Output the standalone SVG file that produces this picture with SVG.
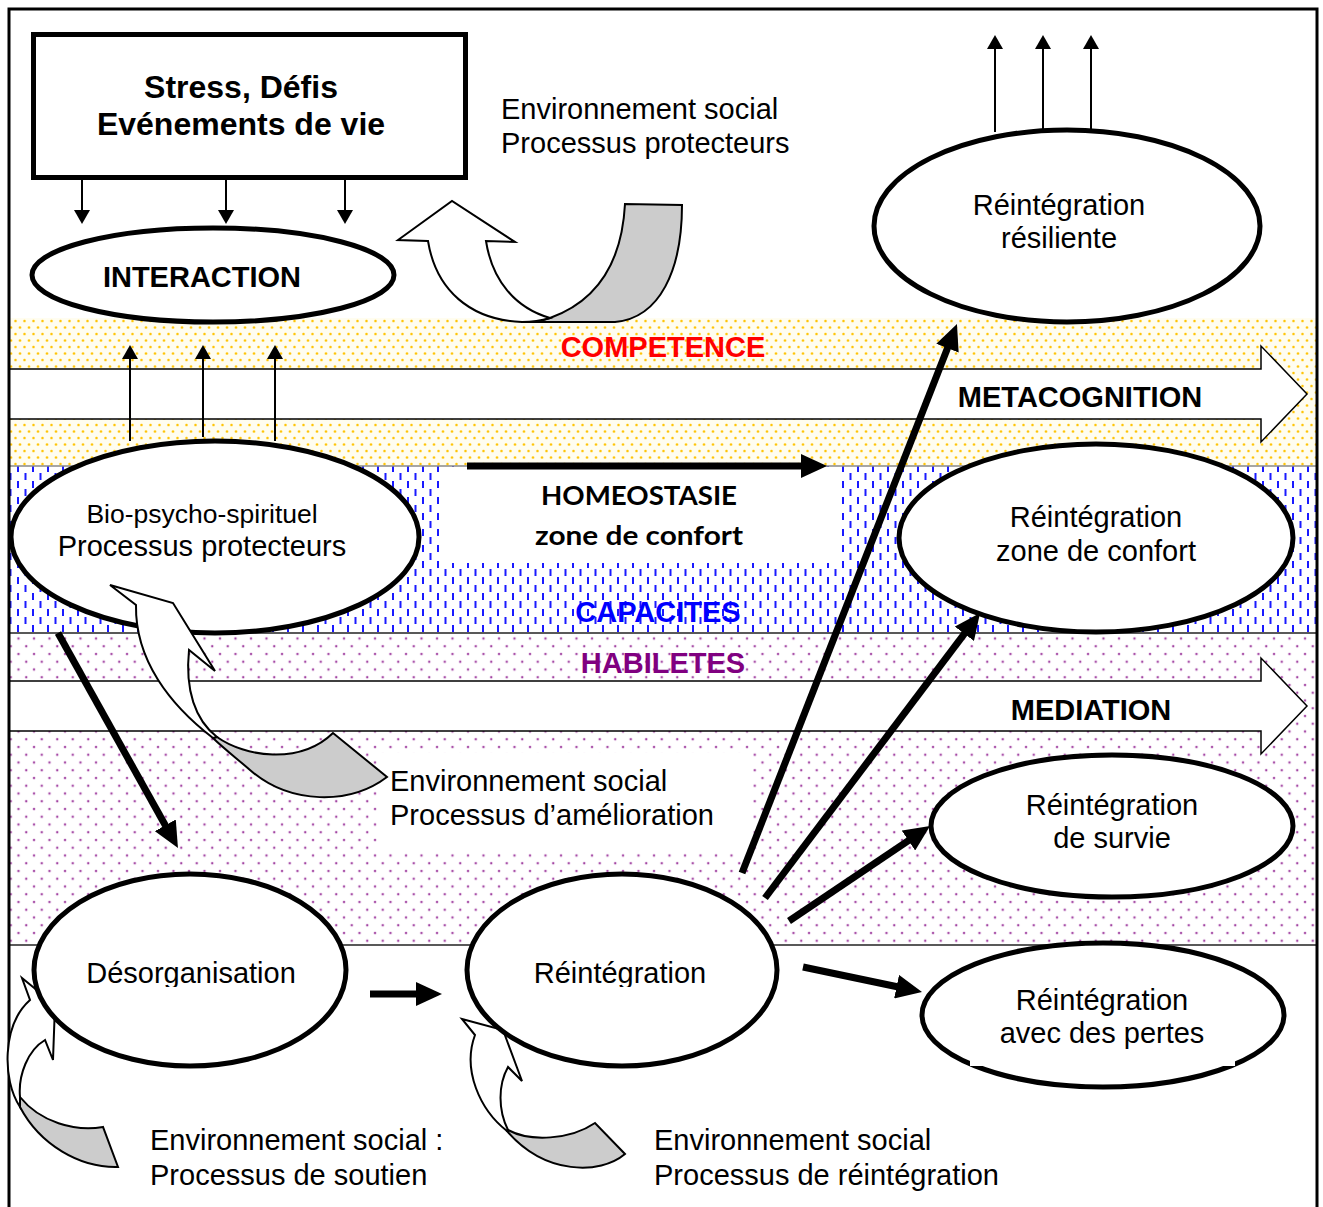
<svg xmlns="http://www.w3.org/2000/svg" width="1323" height="1207" viewBox="0 0 1323 1207">
<style>
.t{font-family:"Liberation Sans",Arial,sans-serif;font-size:29px;fill:#000}
.b{font-weight:bold}
.m{text-anchor:middle}
.cal{font-family:Lato,"Open Sans",sans-serif;font-weight:bold;font-size:27px;text-anchor:middle}
.node{fill:#fff;stroke:#000;stroke-width:5}
.thin{stroke:#000;stroke-width:2;fill:none;marker-end:url(#ah)}
.thick{stroke:#000;stroke-width:7;fill:none;marker-end:url(#ahb)}
.cw{fill:#fff;stroke:#000;stroke-width:2;stroke-linejoin:miter}
.cg{fill:#ccc;stroke:#000;stroke-width:2}
.band{stroke:#222;stroke-width:1.5}
.big{fill:#fff;stroke:#000;stroke-width:1.5}
</style>
<defs>
<marker id="ah" viewBox="0 0 14 16" refX="12" refY="8" markerWidth="14" markerHeight="16" markerUnits="userSpaceOnUse" orient="auto"><path d="M0,0 L14,8 L0,16 Z" fill="#000"/></marker>
<marker id="ahb" viewBox="0 0 26 24" refX="8" refY="12" markerWidth="26" markerHeight="24" markerUnits="userSpaceOnUse" orient="auto"><path d="M0,0 L26,12 L0,24 Z" fill="#000"/></marker>
<pattern id="py" width="9" height="13" patternUnits="userSpaceOnUse"><rect width="9" height="13" fill="#fffdf0"/><circle cx="2" cy="2.5" r="1.6" fill="#FFE680"/><circle cx="6.5" cy="9" r="1.6" fill="#FFE680"/><circle cx="2" cy="2.5" r="1" fill="#FFC000"/><circle cx="6.5" cy="9" r="1" fill="#FFC000"/></pattern>
<pattern id="pb" width="15" height="16" patternUnits="userSpaceOnUse"><rect width="15" height="16" fill="#fff"/><rect x="2" y="1" width="2" height="7" fill="#1a1aff"/><rect x="9.5" y="9" width="2" height="7" fill="#1a1aff"/></pattern>
<pattern id="pp" width="15.5" height="15.5" patternUnits="userSpaceOnUse"><rect width="15.5" height="15.5" fill="#fff"/><circle cx="3" cy="3" r="1.6" fill="#e6c6e6"/><circle cx="10.75" cy="10.75" r="1.6" fill="#e6c6e6"/><circle cx="3" cy="3" r="1" fill="#993399"/><circle cx="10.75" cy="10.75" r="1" fill="#993399"/></pattern>
<clipPath id="clipT"><rect x="0" y="900" width="1323" height="87"/></clipPath>
</defs>
<rect width="1323" height="1207" fill="#fff"/>
<g id="bands">
<rect x="10" y="318" width="1306" height="148" fill="url(#py)"/>
<rect x="10" y="466" width="1306" height="167" fill="url(#pb)"/>
<rect x="10" y="633" width="1306" height="312" fill="url(#pp)"/>
<line x1="10" y1="466" x2="1316" y2="466" stroke="#888" stroke-width="1.5"/>
<line class="band" x1="10" y1="633" x2="1316" y2="633"/>
<line class="band" x1="10" y1="945" x2="1316" y2="945"/>
<path class="big" d="M10,369 L1261,369 L1261,346 L1307,394 L1261,442 L1261,419 L10,419"/>
<path class="big" d="M10,681 L1261,681 L1261,658 L1307,706 L1261,754 L1261,731 L10,731"/>
<rect x="443" y="467" width="395" height="96" fill="#fff"/>
<rect x="380" y="753" width="373" height="97" fill="#fff"/>
</g>
<rect x="9" y="9" width="1308" height="1220" fill="none" stroke="#000" stroke-width="3"/>
<g id="labels">
<text class="t b m" x="663" y="357" style="fill:#FF0000">COMPETENCE</text>
<text class="t b m" x="1080" y="407">METACOGNITION</text>
<text class="t b m" x="658" y="622" style="fill:#0000FF">CAPACITES</text>
<text class="t b m" x="663" y="673" style="fill:#800080">HABILETES</text>
<text class="t b m" x="1091" y="720">MEDIATION</text>
<text class="cal" x="639" y="505" textLength="196" lengthAdjust="spacingAndGlyphs">HOMEOSTASIE</text>
<text class="cal" x="639" y="545" textLength="208" lengthAdjust="spacingAndGlyphs">zone de confort</text>
<text class="t" x="501" y="119">Environnement social</text>
<text class="t" x="501" y="153">Processus protecteurs</text>
<text class="t" x="390" y="791">Environnement social</text>
<text class="t" x="390" y="825">Processus d’amélioration</text>
<text class="t" x="150" y="1150">Environnement social :</text>
<text class="t" x="150" y="1185">Processus de soutien</text>
<text class="t" x="654" y="1150">Environnement social</text>
<text class="t" x="654" y="1185">Processus de réintégration</text>
</g>
<g id="curved-arrows-back">
<path class="cg" d="M20,1097 C40,1122 75,1132 103,1127 L118,1167 C80,1168 40,1145 20,1107 Z"/>
<path class="cw" d="M22,978 L55,1005 L53,1060 L45,1040 C28,1050 18,1075 20,1097 L20,1107 C2,1080 2,1025 30,1000 Z"/>
<path class="cg" d="M508,1130 C530,1142 570,1140 595,1123 L625,1154 C600,1175 545,1175 507,1131 Z"/>
<path class="cw" d="M462,1019 L503,1030 L522,1081 L508,1067 C498,1085 498,1110 508,1130 L507,1131 C480,1110 462,1070 475,1035 Z"/>
</g>
<g id="stress">
<rect class="node" x="33.5" y="34.5" width="432" height="143"/>
<text class="t b m" x="241" y="98" style="font-size:32px">Stress, Défis</text>
<text class="t b m" x="241" y="135" style="font-size:32px">Evénements de vie</text>
</g>
<g id="interaction">
<ellipse class="node" cx="213" cy="275" rx="181" ry="47"/>
<text class="t b m" x="202" y="287">INTERACTION</text>
</g>
<g id="reint-resiliente">
<ellipse class="node" cx="1067" cy="226" rx="193" ry="96"/>
<text class="t m" x="1059" y="215">Réintégration</text>
<text class="t m" x="1059" y="248">résiliente</text>
</g>
<g id="bio">
<ellipse class="node" cx="215" cy="537" rx="204" ry="96"/>
<text class="t m" x="202" y="523" style="font-size:26.5px">Bio-psycho-spirituel</text>
<text class="t m" x="202" y="556">Processus protecteurs</text>
</g>
<g id="reint-confort">
<ellipse class="node" cx="1096" cy="538" rx="197" ry="94"/>
<text class="t m" x="1096" y="527">Réintégration</text>
<text class="t m" x="1096" y="561">zone de confort</text>
</g>
<g id="reint-survie">
<ellipse class="node" cx="1112" cy="826" rx="181" ry="71"/>
<text class="t m" x="1112" y="815">Réintégration</text>
<text class="t m" x="1112" y="848">de survie</text>
</g>
<g id="desorganisation">
<ellipse class="node" cx="190" cy="970" rx="156" ry="96"/>
<text class="t m" x="191" y="983" clip-path="url(#clipT)">Désorganisation</text>
</g>
<g id="reintegration">
<ellipse class="node" cx="622" cy="970" rx="155" ry="96"/>
<text class="t m" x="620" y="983" clip-path="url(#clipT)">Réintégration</text>
</g>
<g id="reint-pertes">
<ellipse class="node" cx="1103" cy="1015" rx="181" ry="72"/>
<rect x="970" y="1061" width="265" height="5" fill="#fff"/>
<text class="t m" x="1102" y="1010">Réintégration</text>
<text class="t m" x="1102" y="1043">avec des pertes</text>
</g>
<g id="curved-arrows-front">
<path class="cg" d="M550,318 C600,300 622,260 625,204 L682,205 C682,270 660,318 615,322 L522,322 C532,322 542,321 550,318 Z"/>
<path class="cw" d="M428,241 L398,240 L452,201 L515,242 L486,241 C492,280 515,308 550,318 C540,321 530,322 522,322 C470,320 436,290 428,241 Z"/>
<path class="cg" d="M217,737 C245,757 300,765 333,733 L387,777 C350,805 290,805 250,770 C235,757 222,747 213,738 Z"/>
<path class="cw" d="M110,585 L173,603 L215,671 L189,650 C185,690 195,720 217,737 L213,738 C170,705 135,660 136,605 Z"/>
</g>
<g id="connectors">
<line class="thin" x1="82" y1="180" x2="82" y2="222"/>
<line class="thin" x1="226" y1="180" x2="226" y2="222"/>
<line class="thin" x1="345" y1="180" x2="345" y2="222"/>
<line class="thin" x1="130" y1="441" x2="130" y2="347"/>
<line class="thin" x1="203" y1="437" x2="203" y2="347"/>
<line class="thin" x1="275" y1="441" x2="275" y2="347"/>
<line class="thin" x1="995" y1="132" x2="995" y2="37"/>
<line class="thin" x1="1043" y1="129" x2="1043" y2="37"/>
<line class="thin" x1="1091" y1="129" x2="1091" y2="37"/>
<line class="thick" x1="467" y1="466" x2="809" y2="466"/>
<line class="thick" x1="58" y1="633" x2="169.2" y2="832.3"/>
<line class="thick" x1="370" y1="994" x2="424" y2="994"/>
<line class="thick" x1="742" y1="873" x2="950.4" y2="340.8"/>
<line class="thick" x1="765" y1="898" x2="969.2" y2="627.4"/>
<line class="thick" x1="789" y1="921" x2="915.1" y2="836.1"/>
<line class="thick" x1="803" y1="967" x2="904.4" y2="988.3"/>
</g>
</svg>
